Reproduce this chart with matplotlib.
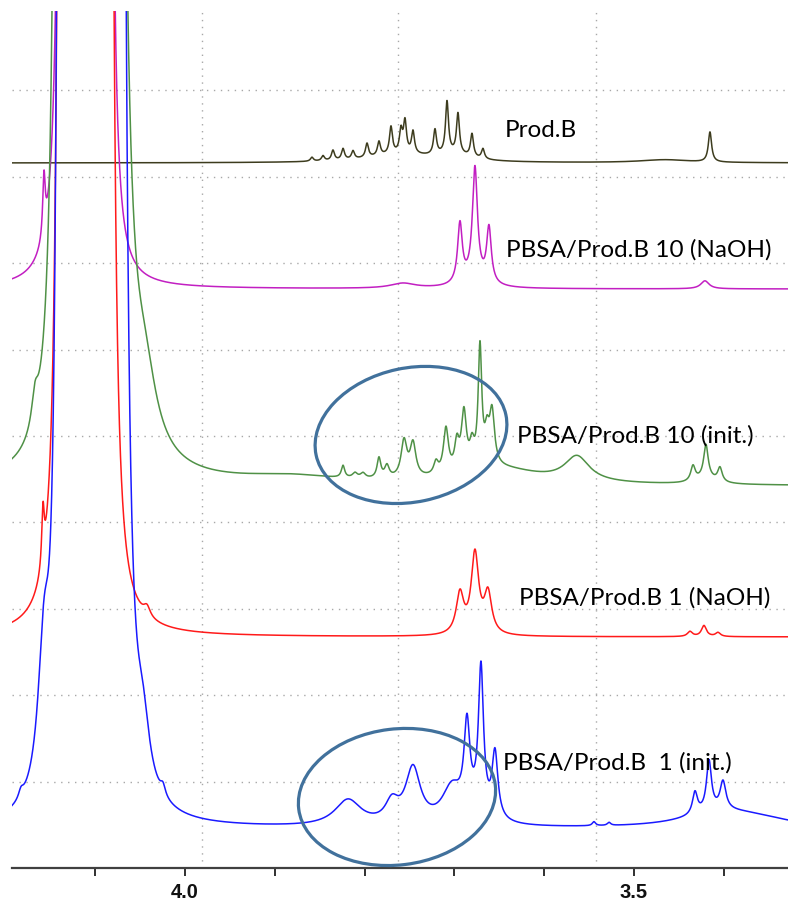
import numpy as np
import matplotlib
matplotlib.use("Agg")
import matplotlib.pyplot as plt
from matplotlib.patches import Ellipse
from matplotlib.transforms import IdentityTransform

# ---------------- data (ppm, intensity in grid units) ----------------
PPM_LEFT, PPM_RIGHT = 4.1926, 3.3285
Y_TOP = 9.919

tick_pos = [4.1, 4.0, 3.9, 3.8, 3.7, 3.6, 3.5, 3.4]
tick_labels = ["", "4.0", "", "", "", "", "3.5", ""]
vgrid_ppm = [4.200, 3.981, 3.763, 3.542]
hgrid_y = [1, 2, 3, 4, 5, 6, 7, 8, 9]

# Prod.B
prodb_base = 8.160
prodb_pos = [3.8586, 3.8463, 3.8352, 3.8240, 3.8129, 3.7973, 3.7840, 3.7706, 3.7595,
             3.7550, 3.7461, 3.7216, 3.7082, 3.6960, 3.6804, 3.6682, 3.4154,
             3.7606, 3.6993, 3.4655]
prodb_h = [0.046, 0.058, 0.116, 0.127, 0.093, 0.162, 0.162, 0.313, 0.255,
           0.359, 0.255, 0.289, 0.602, 0.463, 0.266, 0.116, 0.347,
           0.093, 0.069, 0.035]
prodb_w = [0.0020] * 16 + [0.0022, 0.0445, 0.0223, 0.0334]

# PBSA/Prod.B 10 (NaOH)
naoh10_base = 6.701
naoh10_pos = [4.1347, 4.0857, 4.1570, 3.7573, 3.6938, 3.6771, 3.6615, 3.6782, 3.4210]
naoh10_h = [28.9, 21.3, 0.694, 0.058, 0.683, 1.285, 0.637, 0.093, 0.093]
naoh10_w = [0.00334, 0.00334, 0.00167, 0.0167, 0.00312, 0.00334, 0.00312, 0.0156, 0.00557]
naoh10_env = ([4.1102], [34.7], [0.00724])

# PBSA/Prod.B 10 (init.)
init10_base = 4.421
init10_pos = [4.1381, 4.0791, 4.0445, 4.1670, 3.8831, 3.6492, 3.5635,
              3.8240, 3.8107, 3.8018, 3.7840, 3.7751, 3.7561, 3.7461, 3.7205,
              3.7094, 3.6972, 3.6894, 3.6804, 3.6715, 3.6637, 3.6581,
              3.4343, 3.4199, 3.4043, 3.4199]
init10_h = [51.4, 115.7, 0.694, 0.347, 0.081, 0.174, 0.289,
            0.139, 0.058, 0.058, 0.231, 0.139, 0.420, 0.385, 0.139,
            0.520, 0.310, 0.660, 0.245, 1.370, 0.330, 0.610,
            0.174, 0.382, 0.162, 0.069]
init10_w = [0.00334, 0.00334, 0.0156, 0.00445, 0.0668, 0.0557, 0.0167,
            0.00223, 0.00334, 0.00334, 0.00250, 0.00300, 0.0039, 0.0039, 0.00300,
            0.00334, 0.00300, 0.00334, 0.00300, 0.00240, 0.00300, 0.00334,
            0.00300, 0.00300, 0.00300, 0.0134]
init10_env = ([4.1086], [57.9], [0.00947])

# PBSA/Prod.B 1 (NaOH)
naoh1_base = 2.674
naoh1_pos = [4.1358, 4.0857, 4.1581, 4.0423, 3.6938, 3.6771, 3.6626, 3.4377, 3.4221, 3.4065]
naoh1_h = [38.7, 36.4, 0.637, 0.116, 0.463, 0.926, 0.463, 0.058, 0.127, 0.046]
naoh1_w = [0.00334, 0.00334, 0.00167, 0.00445, 0.0050, 0.0050, 0.0050, 0.00334, 0.00334, 0.00334]
naoh1_env = ([4.1108], [46.3], [0.0078])

# PBSA/Prod.B 1 (init.)
init1_base = 0.451
init1_pos = [4.1370, 4.0735, 4.1570, 4.1826, 4.0468, 4.0245,
             3.8185, 3.7695, 3.7461, 3.7027, 3.6860, 3.6704, 3.6548, 3.6737,
             3.4043, 3.3597, 3.4321, 3.4165, 3.4009, 3.5446, 3.5278]
init1_h = [38.6, 64.3, 1.505, 0.093, 0.637, 0.116,
           0.301, 0.231, 0.637, 0.405, 0.984, 1.620, 0.752, 0.139,
           0.174, 0.069, 0.255, 0.579, 0.324, 0.046, 0.035]
init1_w = [0.00334, 0.00334, 0.0078, 0.00334, 0.0089, 0.00334,
           0.0178, 0.0089, 0.0100, 0.0134, 0.0039, 0.00334, 0.0039, 0.0134,
           0.0501, 0.0445, 0.00334, 0.00334, 0.0039, 0.00223, 0.00223]
init1_env = ([4.1052], [69.4], [0.0100])

labels = ["Prod.B", "PBSA/Prod.B 10 (NaOH)", "PBSA/Prod.B 10 (init.)",
          "PBSA/Prod.B 1 (NaOH)", "PBSA/Prod.B  1 (init.)"]
label_ppm = [3.6437, 3.6426, 3.6303, 3.6281, 3.6459]
label_y = [8.553, 7.164, 5.012, 3.137, 1.227]
colors = ["#3d3c1e", "#c21fc2", "#4f9146", "#ff1a1a", "#1a1aff"]

# highlighted regions (center ppm, center y, width px, height px, angle)
ell_ppm = [3.7483, 3.7639]
ell_y = [5.012, 0.822]
ell_wpx = [194, 198]
ell_hpx = [134, 136]
ell_ang = [12, 7]

# ---------------- build spectra ----------------
ppm = np.linspace(PPM_LEFT, PPM_RIGHT, 9000)


def spectrum(base, pos, h, w, env=((), (), ())):
    y = np.full_like(ppm, base)
    for p, a, g in zip(pos, h, w):
        y += a / (1.0 + ((ppm - p) / g) ** 2)
    for p, a, s in zip(*env):
        y += a * np.exp(-0.5 * ((ppm - p) / s) ** 2)
    return y


traces = [
    spectrum(prodb_base, prodb_pos, prodb_h, prodb_w),
    spectrum(naoh10_base, naoh10_pos, naoh10_h, naoh10_w, naoh10_env),
    spectrum(init10_base, init10_pos, init10_h, init10_w, init10_env),
    spectrum(naoh1_base, naoh1_pos, naoh1_h, naoh1_w, naoh1_env),
    spectrum(init1_base, init1_pos, init1_h, init1_w, init1_env),
]

# ---------------- figure ----------------
W, H = 788, 903
fig = plt.figure(figsize=(W / 100, H / 100), dpi=100)
ax = fig.add_axes([12 / W, 34 / H, 776 / W, 857 / H])
ax.set_xlim(PPM_LEFT, PPM_RIGHT)
ax.set_ylim(0, Y_TOP)

for gy in hgrid_y:
    ax.axhline(gy, color="#a8a8a8", lw=1.0, ls=(0, (1, 4)), zorder=1)
for gx in vgrid_ppm:
    ax.axvline(gx, color="#a8a8a8", lw=1.0, ls=(0, (1, 4)), zorder=1)

for y, c in zip(traces, colors):
    ax.plot(ppm, y, color=c, lw=1.1, zorder=3)

for t, lx, ly in zip(labels, label_ppm, label_y):
    ax.text(lx, ly, t, fontsize=17.5, family="Lato", ha="left", va="center",
            color="black", zorder=5)

for s in ["left", "right", "top"]:
    ax.spines[s].set_visible(False)
ax.spines["bottom"].set_color("#404040")
ax.spines["bottom"].set_linewidth(1.6)
ax.set_yticks([])
ax.set_xticks(tick_pos)
ax.tick_params(axis="x", direction="out", length=6, width=1.4, color="#303030",
               pad=4)
ax.set_xticklabels(tick_labels, fontsize=14.5, fontweight="bold",
                   family=["Liberation Sans Narrow", "Liberation Sans"],
                   color="#111111")

fig.canvas.draw()
for ep, ey, ew, eh, ea in zip(ell_ppm, ell_y, ell_wpx, ell_hpx, ell_ang):
    cx, cy = ax.transData.transform((ep, ey))
    e = Ellipse((cx, cy), ew, eh, angle=ea, transform=IdentityTransform(),
                fill=False, edgecolor="#41719c", lw=2.3, zorder=6)
    fig.add_artist(e)

fig.savefig("out.png", dpi=100)
